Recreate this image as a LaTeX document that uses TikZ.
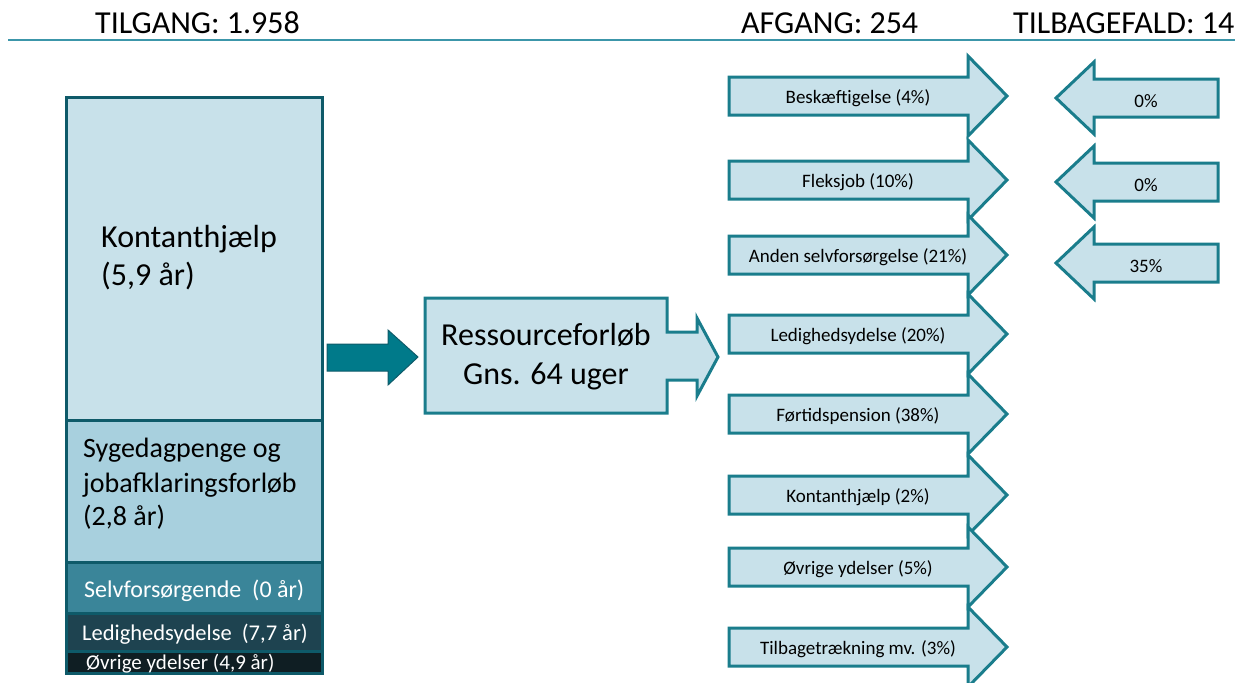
\documentclass[tikz,border=0pt]{standalone}
\usepackage{fontspec}
\setmainfont{Carlito}
\usetikzlibrary{positioning, calc}

\definecolor{lightfill}{RGB}{200,225,234}
\definecolor{midfill}{RGB}{168,208,222}
\definecolor{selvfill}{RGB}{58,133,153}
\definecolor{ledfill}{RGB}{30,67,80}
\definecolor{ovrfill}{RGB}{15,30,35}
\definecolor{stackline}{RGB}{14,90,105}
\definecolor{arrowline}{RGB}{26,125,140}
\definecolor{headline}{RGB}{60,150,170}
\definecolor{bigarrow}{RGB}{0,122,138}

\tikzset{
    band/.style={draw=stackline, line width=3pt},
    blockarrow/.style={draw=arrowline, fill=lightfill, line width=3pt, line join=miter},
    arrowtext/.style={font=\fontsize{19}{22}\selectfont, inner sep=0pt},
    headtext/.style={font=\fontsize{32}{38}\selectfont, anchor=base west, inner sep=0pt},
    stacktext/.style={anchor=base west, inner sep=0pt}
}

% afgang arrow pointing right, #1 = centre y
\def\afgangarrow#1{%
    \draw[blockarrow]
        (729,#1-19) -- (968,#1-19) -- (968,#1-40) -- (1007,#1)
        -- (968,#1+40) -- (968,#1+19) -- (729,#1+19) -- cycle;
}
% tilbagefald arrow pointing left, #1 = centre y
\def\tilbagearrow#1{%
    \draw[blockarrow]
        (1218,#1-19) -- (1094,#1-19) -- (1094,#1-36) -- (1056,#1)
        -- (1094,#1+36) -- (1094,#1+19) -- (1218,#1+19) -- cycle;
}

\begin{document}
\begin{tikzpicture}[x=1pt, y=-1pt]
    \useasboundingbox (0,0) rectangle (1235,683);

    % heading
    \node[headtext] (tilgang) at (95,33) {TILGANG: 1.958};
    \node[headtext] (afgang) at (741,33) {AFGANG: 254};
    \node[headtext] (tilbage) at (1013,33) {TILBAGEFALD: 14};
    \draw[headline, line width=1.5pt] (8,40) -- (1235,40);

    % stacked column
    \draw[band, fill=lightfill] (66,97) rectangle (322,420);
    \draw[band, fill=midfill] (66,420) rectangle (322,562);
    \draw[band, fill=selvfill] (66,562) rectangle (322,613);
    \draw[band, fill=ledfill] (66,613) rectangle (322,651);
    \draw[band, fill=ovrfill] (66,651) rectangle (322,673);

    \node[stacktext, font=\fontsize{32}{39}\selectfont] (kont1) at (101,247) {Kontanthjælp};
    \node[stacktext, font=\fontsize{32}{39}\selectfont] (kont2) at (101,285) {(5,9 år)};
    \node[stacktext, font=\fontsize{28}{34}\selectfont] (syg1) at (83,457) {Sygedagpenge og};
    \node[stacktext, font=\fontsize{28}{34}\selectfont] (syg2) at (83,492) {jobafklaringsforløb};
    \node[stacktext, font=\fontsize{28}{34}\selectfont] (syg3) at (83,525) {(2,8 år)};
    \node[stacktext, font=\fontsize{24}{28}\selectfont, text=white] (selv) at (84,597) {Selvforsørgende\ \ (0 år)};
    \node[stacktext, font=\fontsize{22.5}{26}\selectfont, text=white] (ledig) at (82,640) {Ledighedsydelse\ \ (7,7 år)};
    \node[stacktext, font=\fontsize{21}{24}\selectfont, text=white] (ovrig) at (86,669) {Øvrige ydelser (4,9 år)};

    % into the course
    \draw[draw=stackline, fill=bigarrow, line width=1pt, line join=miter]
        (327,344) -- (388,344) -- (388,330) -- (418,357)
        -- (388,385) -- (388,371) -- (327,371) -- cycle;

    \draw[blockarrow]
        (425,298) -- (667,298) -- (667,332) -- (697,332) -- (697,318) -- (718,357)
        -- (697,396) -- (697,380) -- (667,380) -- (667,413) -- (425,413) -- cycle;
    \node[font=\fontsize{32}{39}\selectfont, align=center, inner sep=0pt] (forlob) at (546,357)
        {Ressourceforløb\\Gns. 64 uger};

    % afgang
    \foreach \cy/\name/\txt in {
        96/besk/{Beskæftigelse (4\%)},
        180/fleks/{Fleksjob (10\%)},
        255/anden/{Anden selvforsørgelse (21\%)},
        334/ledyd/{Ledighedsydelse (20\%)},
        414/fortid/{Førtidspension (38\%)},
        495/kontant/{Kontanthjælp (2\%)},
        567/ovryd/{Øvrige ydelser (5\%)},
        647/tilbtr/{Tilbagetrækning mv. (3\%)}}{

        \afgangarrow{\cy}
        \node[arrowtext] (\name) at (858,\cy+2) {\txt};
    }

    % tilbagefald
    \foreach \cy/\name/\txt in {
        98/tbesk/{0\%},
        182/tfleks/{0\%},
        263/tanden/{35\%}}{

        \tilbagearrow{\cy}
        \node[arrowtext] (\name) at (1146,\cy+3) {\txt};
    }
\end{tikzpicture}
\end{document}
